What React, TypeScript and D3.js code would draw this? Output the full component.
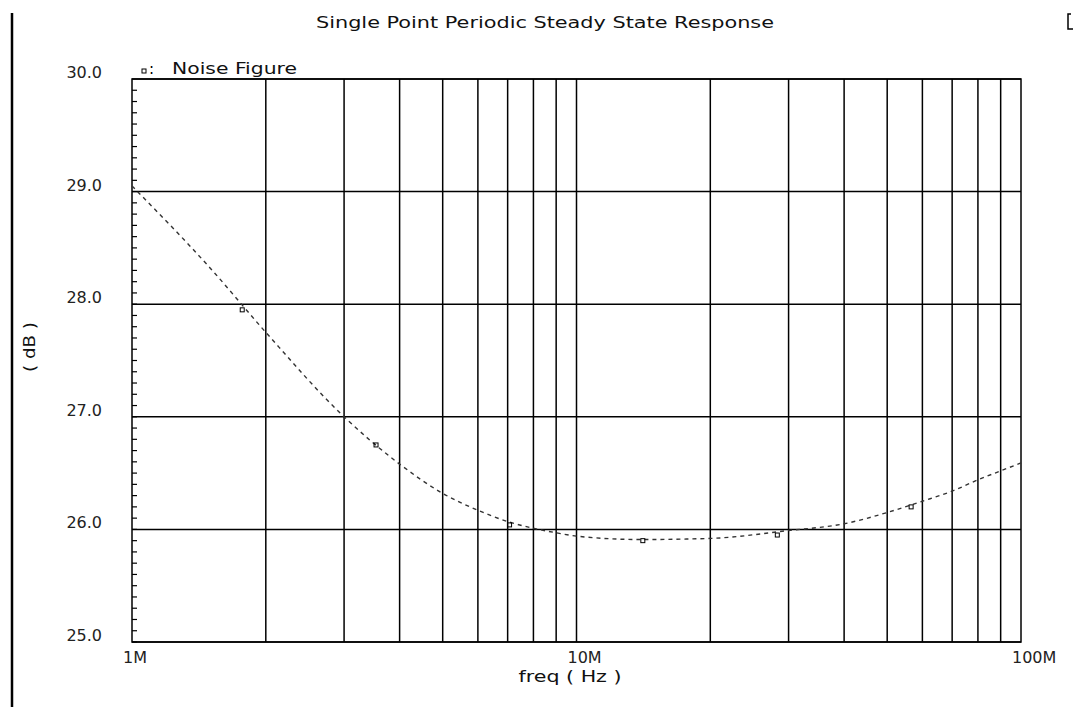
import React, { useRef, useEffect } from 'react';
import * as d3 from 'd3';

// noise figure curve (freq in Hz, NF in dB)
const freqs = [1e6, 1.5e6, 2e6, 3e6, 4e6, 5e6, 6e6, 7e6, 8e6, 9e6, 10e6, 14e6, 20e6, 30e6, 40e6, 50e6, 60e6, 70e6, 80e6, 90e6, 100e6];
const noiseFigure = [29.05, 28.32, 27.75, 27.0, 26.58, 26.32, 26.17, 26.07, 26.01, 25.97, 25.94, 25.91, 25.92, 25.99, 26.05, 26.15, 26.25, 26.34, 26.44, 26.52, 26.59];

// marker symbols placed along the curve
const markerFreqs = [1.77e6, 3.54e6, 7.07e6, 14.1e6, 28.3e6, 56.6e6];
const markerValues = [27.95, 26.75, 26.04, 25.9, 25.95, 26.2];

const yTicks = [25, 26, 27, 28, 29, 30];
const xLabels = [1e6, 10e6, 100e6];
const xLabelText = ['1M', '10M', '100M'];

const title = 'Single Point Periodic Steady State Response';
const seriesName = 'Noise Figure';
const xTitle = 'freq ( Hz )';
const yTitle = '( dB )';

const W = 1075;
const H = 707;
const FONT = '"DejaVu Sans", sans-serif';

const App: React.FC = () => {
  const svgRef = useRef<SVGSVGElement | null>(null);

  useEffect(() => {
    document.body.style.margin = '0';
    if (!svgRef.current) return;
    const svg = d3.select(svgRef.current);
    svg.selectAll('*').remove();

    const margin = { top: 79, right: 54, bottom: 65, left: 132 };
    const innerW = W - margin.left - margin.right;
    const innerH = H - margin.top - margin.bottom;

    const x = d3.scaleLog().domain([1e6, 100e6]).range([0, innerW]);
    const y = d3.scaleLinear().domain([25, 30]).range([innerH, 0]);

    svg.append('rect').attr('width', W).attr('height', H).attr('fill', '#fff');

    // left frame bar
    svg.append('line')
      .attr('x1', 12).attr('x2', 12).attr('y1', 13).attr('y2', H)
      .attr('stroke', '#000').attr('stroke-width', 2.5);

    // little bracket in the top-right corner
    svg.append('path')
      .attr('d', 'M1071,14 L1068,14 L1068,29 L1073,29')
      .attr('fill', 'none').attr('stroke', '#000').attr('stroke-width', 1.5);

    svg.append('text')
      .attr('x', 316).attr('y', 28)
      .attr('textLength', 458).attr('lengthAdjust', 'spacingAndGlyphs')
      .attr('font-family', FONT).attr('font-size', 16).attr('fill', '#111')
      .text(title);

    const g = svg.append('g').attr('transform', `translate(${margin.left},${margin.top})`);

    // vertical grid: every decade multiple
    const xGrid: number[] = [];
    for (let dec = 1e6; dec < 100e6; dec *= 10) {
      for (let k = 2; k <= 9; k++) xGrid.push(dec * k);
    }
    xGrid.push(10e6);
    g.selectAll('line.vgrid')
      .data(xGrid)
      .join('line')
      .attr('class', 'vgrid')
      .attr('x1', d => x(d)).attr('x2', d => x(d))
      .attr('y1', 0).attr('y2', innerH)
      .attr('stroke', '#000').attr('stroke-width', 1.5);

    g.selectAll('line.hgrid')
      .data(yTicks)
      .join('line')
      .attr('class', 'hgrid')
      .attr('x1', 0).attr('x2', innerW)
      .attr('y1', d => y(d)).attr('y2', d => y(d))
      .attr('stroke', '#000').attr('stroke-width', 1.5);

    g.append('rect')
      .attr('width', innerW).attr('height', innerH)
      .attr('fill', 'none').attr('stroke', '#000').attr('stroke-width', 1.5);

    // minor ticks on the left axis
    g.selectAll('line.minor')
      .data(d3.range(250, 300).map(v => v / 10))
      .join('line')
      .attr('class', 'minor')
      .attr('x1', 0).attr('x2', 5)
      .attr('y1', d => y(d)).attr('y2', d => y(d))
      .attr('stroke', '#000').attr('stroke-width', 1.2);

    g.selectAll('text.ylab')
      .data(yTicks)
      .join('text')
      .attr('class', 'ylab')
      .attr('x', -30).attr('y', d => y(d) - 1)
      .attr('text-anchor', 'end')
      .attr('font-family', FONT).attr('font-size', 16).attr('fill', '#222')
      .text(d => d3.format('.1f')(d));

    g.selectAll('text.xlab')
      .data(xLabels)
      .join('text')
      .attr('class', 'xlab')
      .attr('x', d => x(d) - 9).attr('y', innerH + 21)
      .attr('font-family', FONT).attr('font-size', 16).attr('fill', '#222')
      .text((d, i) => xLabelText[i]);

    g.append('text')
      .attr('x', x(10e6) - 58).attr('y', innerH + 40)
      .attr('font-family', FONT).attr('font-size', 16).attr('fill', '#111')
      .attr('textLength', 103).attr('lengthAdjust', 'spacingAndGlyphs')
      .text(xTitle);

    svg.append('text')
      .attr('transform', `translate(35,347) rotate(-90)`)
      .attr('text-anchor', 'middle')
      .attr('textLength', 50).attr('lengthAdjust', 'spacingAndGlyphs')
      .attr('font-family', FONT).attr('font-size', 16).attr('fill', '#111')
      .text(yTitle);

    // legend
    svg.append('rect')
      .attr('x', 142).attr('y', 69).attr('width', 4).attr('height', 4)
      .attr('fill', 'none').attr('stroke', '#000').attr('stroke-width', 1);
    svg.append('text')
      .attr('x', 149).attr('y', 74)
      .attr('font-family', FONT).attr('font-size', 15).attr('fill', '#000')
      .text(':');
    svg.append('text')
      .attr('x', 172).attr('y', 74)
      .attr('textLength', 125).attr('lengthAdjust', 'spacingAndGlyphs')
      .attr('font-family', FONT).attr('font-size', 15).attr('fill', '#111')
      .text(seriesName);

    const pts = freqs.map((f, i) => ({ f, v: noiseFigure[i] }));
    const line = d3.line<{ f: number; v: number }>()
      .x(d => x(d.f))
      .y(d => y(d.v))
      .curve(d3.curveMonotoneX);
    g.append('path')
      .datum(pts)
      .attr('fill', 'none')
      .attr('stroke', '#333')
      .attr('stroke-width', 1.4)
      .attr('stroke-dasharray', '4,4')
      .attr('d', line);

    const marks = markerFreqs.map((f, i) => ({ f, v: markerValues[i] }));
    g.selectAll('rect.mark')
      .data(marks)
      .join('rect')
      .attr('class', 'mark')
      .attr('x', d => x(d.f) - 2).attr('y', d => y(d.v) - 2)
      .attr('width', 4).attr('height', 4)
      .attr('fill', 'none').attr('stroke', '#000').attr('stroke-width', 1);
  }, []);

  return (
    <svg ref={svgRef} width={W} height={H} style={{ display: 'block' }} />
  );
};

export default App;
